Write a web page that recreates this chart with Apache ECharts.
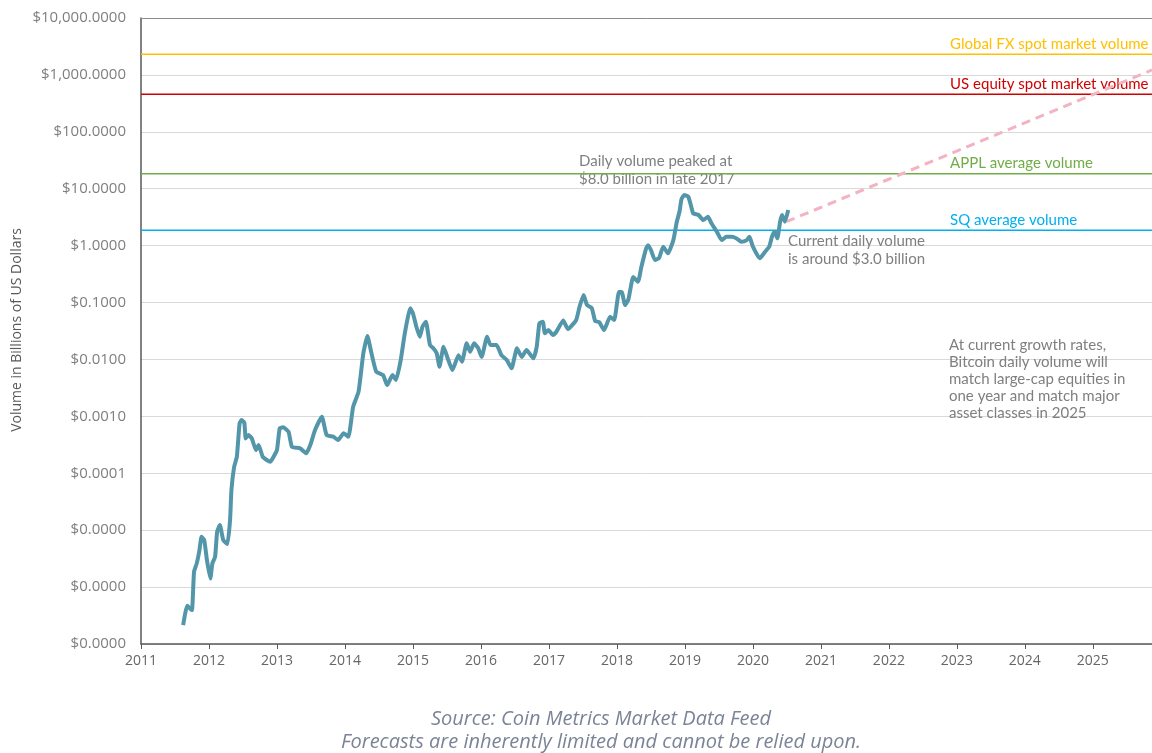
<!DOCTYPE html>
<html>
<head>
<meta charset="utf-8">
<script src="https://cdn.jsdelivr.net/npm/echarts@6/dist/echarts.min.js"></script>
<style>
  html, body { margin: 0; padding: 0; background: #fff; }
  #chart { width: 1152px; height: 753px; }
</style>
</head>
<body>
<div id="chart"></div>
<script>
/* ================================
   DATA (volume in billions of USD)
================================ */
const volYears = [
  2011.62, 2011.65, 2011.68, 2011.72, 2011.75, 2011.78, 2011.82, 2011.86, 2011.89, 2011.93,
  2011.97, 2012.02, 2012.05, 2012.09, 2012.12, 2012.16, 2012.21, 2012.27, 2012.31, 2012.33,
  2012.37, 2012.41, 2012.45, 2012.48, 2012.52, 2012.54, 2012.58, 2012.63, 2012.69, 2012.73,
  2012.79, 2012.85, 2012.90, 2012.95, 2013.00, 2013.04, 2013.09, 2013.17, 2013.22, 2013.34,
  2013.43, 2013.49, 2013.56, 2013.66, 2013.73, 2013.83, 2013.90, 2013.98, 2014.05, 2014.12,
  2014.20, 2014.27, 2014.33, 2014.39, 2014.46, 2014.56, 2014.62, 2014.70, 2014.75, 2014.82,
  2014.88, 2014.96, 2015.00, 2015.05, 2015.10, 2015.14, 2015.19, 2015.25, 2015.30, 2015.35,
  2015.39, 2015.45, 2015.52, 2015.58, 2015.67, 2015.72, 2015.79, 2015.84, 2015.90, 2015.96,
  2016.01, 2016.09, 2016.14, 2016.23, 2016.30, 2016.38, 2016.45, 2016.53, 2016.60, 2016.67,
  2016.77, 2016.82, 2016.86, 2016.91, 2016.94, 2016.99, 2017.06, 2017.11, 2017.21, 2017.28,
  2017.40, 2017.45, 2017.51, 2017.56, 2017.63, 2017.68, 2017.74, 2017.81, 2017.90, 2017.96,
  2018.03, 2018.07, 2018.12, 2018.17, 2018.24, 2018.31, 2018.36, 2018.43, 2018.46, 2018.50,
  2018.56, 2018.62, 2018.68, 2018.75, 2018.83, 2018.88, 2018.92, 2018.95, 2018.99, 2019.05,
  2019.10, 2019.12, 2019.20, 2019.27, 2019.34, 2019.39, 2019.47, 2019.54, 2019.61, 2019.69,
  2019.76, 2019.83, 2019.91, 2019.95, 2020.00, 2020.10, 2020.18, 2020.24, 2020.28, 2020.32,
  2020.36, 2020.40, 2020.43, 2020.47, 2020.52
];
const volValues = [
  2.15e-7, 3.45e-7, 4.69e-7, 4.22e-7, 3.94e-7, 1.86e-6, 2.61e-6, 4.47e-6, 7.66e-6, 6.70e-6,
  2.98e-6, 1.42e-6, 2.61e-6, 3.41e-6, 9.37e-6, 1.23e-5, 6.70e-6, 5.70e-6, 1.51e-5, 5.07e-5,
  1.30e-4, 1.95e-4, 7.53e-4, 8.61e-4, 7.72e-4, 4.10e-4, 4.69e-4, 4.10e-4, 2.56e-4, 3.13e-4,
  1.95e-4, 1.71e-4, 1.59e-4, 1.95e-4, 2.56e-4, 6.15e-4, 6.41e-4, 5.36e-4, 2.92e-4, 2.74e-4,
  2.24e-4, 3.13e-4, 5.74e-4, 9.84e-4, 4.69e-4, 4.38e-4, 3.83e-4, 5.03e-4, 4.38e-4, 1.47e-3,
  2.71e-3, 1.28e-2, 2.58e-2, 1.28e-2, 6.08e-3, 5.32e-3, 3.55e-3, 5.32e-3, 4.35e-3, 9.76e-3,
  2.88e-2, 7.91e-2, 6.46e-2, 3.76e-2, 2.51e-2, 3.76e-2, 4.60e-2, 1.79e-2, 1.57e-2, 1.28e-2,
  7.44e-3, 1.67e-2, 9.76e-3, 6.51e-3, 1.19e-2, 9.12e-3, 1.92e-2, 1.37e-2, 1.92e-2, 1.57e-2,
  1.11e-2, 2.51e-2, 1.79e-2, 1.79e-2, 1.19e-2, 9.76e-3, 6.98e-3, 1.57e-2, 1.11e-2, 1.46e-2,
  1.05e-2, 1.67e-2, 4.31e-2, 4.60e-2, 2.88e-2, 3.29e-2, 2.69e-2, 3.07e-2, 4.83e-2, 3.42e-2,
  4.92e-2, 8.44e-2, 0.1355, 9.04e-2, 8.0e-2, 4.73e-2, 4.54e-2, 3.29e-2, 5.63e-2, 4.92e-2,
  0.153, 0.153, 9.04e-2, 0.115, 0.281, 0.232, 0.426, 0.897, 1.02, 0.837,
  0.558, 0.605, 0.957, 0.732, 1.25, 2.60, 3.94, 6.59, 7.75, 7.23,
  4.52, 3.70, 3.45, 2.82, 3.22, 2.47, 1.75, 1.25, 1.43, 1.43,
  1.34, 1.17, 1.25, 1.43, 0.957, 0.598, 0.782, 0.957, 1.43, 1.75,
  1.34, 2.63, 3.45, 2.63, 4.22
];

// forecast (dashed, pink)
const forecastYears  = [2020.49, 2025.87];
const forecastValues = [2.63, 1220];

// horizontal benchmarks
const refNames  = ["Global FX spot market volume", "US equity spot market volume", "APPL average volume", "SQ average volume"];
const refValues = [2300, 456, 18.4, 1.86];

/* ================================
   STYLE
================================ */
const refColors = ["#ffc000", "#d00000", "#70ad47", "#00b0f0"];
const xMin = 2011, xMax = 2025.87;
const refLabelYear = 2022.9;

const chart = echarts.init(document.getElementById("chart"));

const pairs = (xs, ys) => xs.map((x, i) => [x, ys[i]]);

const refSeries = refValues.map((v, i) => ({
  type: "line",
  name: refNames[i],
  data: [[xMin, v], [xMax, v]],
  symbol: "none",
  silent: true,
  z: 1,
  lineStyle: { color: refColors[i], width: 1.5 }
}));

chart.setOption({
  animation: false,
  grid: { left: 141, right: 0, top: 18, bottom: 109 },
  xAxis: [
    {
      type: "value",
      min: xMin,
      max: xMax,
      interval: 1,
      splitLine: { show: false },
      axisLine: { lineStyle: { color: "#595959", width: 1.5 } },
      axisTick: { show: true, length: 5, lineStyle: { color: "#595959" } },
      axisLabel: {
        color: "#666",
        fontFamily: "Open Sans",
        fontSize: 14,
        margin: 10,
        showMaxLabel: false,
        formatter: v => (Number.isInteger(v) ? String(v) : "")
      }
    },
    {
      // top frame line only
      type: "value",
      position: "top",
      min: xMin,
      max: xMax,
      axisLine: { show: true, onZero: false, lineStyle: { color: "#8c8c8c", width: 1 } },
      axisTick: { show: false },
      axisLabel: { show: false },
      splitLine: { show: false }
    }
  ],
  yAxis: {
    type: "log",
    logBase: 10,
    min: 1e-7,
    max: 1e4,
    interval: 1,
    axisLine: { show: true, lineStyle: { color: "#595959", width: 1.5 } },
    axisTick: { show: false },
    splitLine: { lineStyle: { color: "#d9d9d9", width: 1 } },
    axisLabel: {
      color: "#7f7f7f",
      fontFamily: "Open Sans",
      fontSize: 15,
      margin: 15,
      formatter: v => "$" + Number(v).toLocaleString("en-US", { minimumFractionDigits: 4, maximumFractionDigits: 4 })
    }
  },
  series: [
    ...refSeries,
    {
      type: "line",
      name: "Forecast",
      data: pairs(forecastYears, forecastValues),
      symbol: "none",
      z: 2,
      lineStyle: { color: "#f3b3c1", width: 3, type: [9, 6] }
    },
    {
      type: "line",
      name: "Daily volume",
      data: pairs(volYears, volValues),
      symbol: "none",
      smooth: 0.15,
      z: 3,
      lineStyle: { color: "#5396a9", width: 4 }
    }
  ]
});

/* ================================
   TEXT OVERLAYS
================================ */
const noteStyle = { fill: "#7f7f7f", font: "15px Lato", lineHeight: 18 };
const footStyle = { fill: "#7b8496", font: "italic 20px 'Open Sans'", align: "center", verticalAlign: "middle" };

const refLabels = refValues.map((v, i) => {
  const p = chart.convertToPixel({ gridIndex: 0 }, [refLabelYear, v]);
  return {
    type: "text",
    x: p[0],
    y: p[1] - 3,
    style: { text: refNames[i], fill: refColors[i], font: "15px Lato", align: "left", verticalAlign: "bottom" }
  };
});

chart.setOption({
  graphic: [
    ...refLabels,
    {
      type: "text", x: 17, y: 330, rotation: Math.PI / 2,
      style: { text: "Volume in Billions of US Dollars", fill: "#595959", font: "14px 'Open Sans'", align: "center", verticalAlign: "middle" }
    },
    {
      type: "text", x: 579, y: 152,
      style: Object.assign({}, noteStyle, { text: "Daily volume peaked at\n$8.0 billion in late 2017" })
    },
    {
      type: "text", x: 788, y: 232,
      style: Object.assign({}, noteStyle, { text: "Current daily volume\nis around $3.0 billion" })
    },
    {
      type: "text", x: 949, y: 337,
      style: Object.assign({}, noteStyle, {
        lineHeight: 17,
        text: "At current growth rates,\nBitcoin daily volume will\nmatch large-cap equities in\none year and match major\nasset classes in 2025"
      })
    },
    {
      type: "text", x: 601, y: 719,
      style: Object.assign({}, footStyle, { text: "Source: Coin Metrics Market Data Feed" })
    },
    {
      type: "text", x: 601, y: 742,
      style: Object.assign({}, footStyle, { text: "Forecasts are inherently limited and cannot be relied upon." })
    }
  ]
});
</script>
</body>
</html>
